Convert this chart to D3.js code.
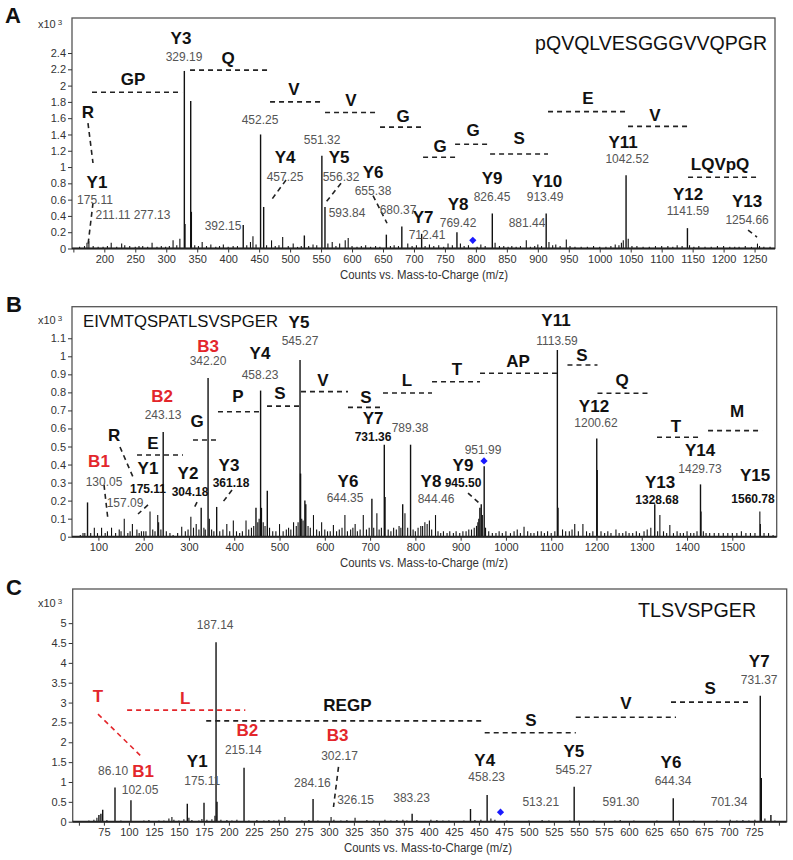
<!DOCTYPE html>
<html><head><meta charset="utf-8">
<script src="https://cdn.jsdelivr.net/npm/d3@7"></script>
<style>
body{margin:0;background:#fff}
svg{display:block;font-family:"Liberation Sans",Arial,sans-serif}
.ion,.res{font-weight:bold;font-size:17px;fill:#111}
.red{font-weight:bold;font-size:17px;fill:#e3262b}
.num{font-size:12px;fill:#555}
.numb{font-size:12px;fill:#111;font-weight:bold}
.tick text{font-size:11px;fill:#333;font-family:"Liberation Sans",Arial,sans-serif}
.tick line{stroke:#333}
</style></head><body>
<svg id="chart" width="793" height="860"></svg>
<script>
// ---------------- DATA (m/z, counts x10^3) ----------------
const peaksA = [
[175.1,0.09],[211.1,0.07],[277.1,0.07],[329.2,2.18],[330.2,0.3],[339.5,1.81],[340.5,0.45],[392.2,0.05],[424.3,0.29],
[452.3,1.40],[457.3,0.51],[551.3,1.14],[556.3,0.51],[593.8,0.13],[655.4,0.17],[680.4,0.27],[712.4,0.18],[769.4,0.20],
[826.5,0.43],[881.4,0.10],[913.5,0.43],[946,0.11],[1042.5,0.90],[1141.6,0.25],[1254.7,0.06],
[160,0.02],[168,0.03],[172,0.07],[182,0.03],[190,0.02],[198,0.02],[205,0.03],[220,0.02],[228,0.06],[233,0.04],[241,0.03],
[250,0.02],[256,0.03],[262,0.03],[270,0.02],[285,0.02],[292,0.03],[299,0.02],[305,0.03],[311,0.1],[317,0.04],[322,0.12],
[346,0.04],[352,0.03],[358,0.08],[365,0.03],[372,0.05],[380,0.02],[386,0.03],[400,0.02],[408,0.03],[415,0.03],[430,0.04],
[436,0.08],[440,0.15],[445,0.05],[462,0.04],[470,0.1],[476,0.03],[482,0.04],[488,0.14],[497,0.03],[505,0.06],[512,0.02],
[518,0.03],[523,0.16],[530,0.03],[537,0.05],[543,0.04],[561,0.06],[568,0.08],[574,0.03],[580,0.06],[589,0.1],[600,0.03],
[608,0.02],[615,0.03],[622,0.04],[630,0.02],[638,0.03],[645,0.02],[662,0.03],[668,0.04],[675,0.03],[690,0.06],[697,0.03],
[704,0.04],[718,0.03],[725,0.05],[732,0.03],[740,0.04],[748,0.02],[755,0.06],[762,0.04],[775,0.06],[781,0.03],[788,0.04],
[802,0.02],[808,0.05],[815,0.03],[831,0.07],[838,0.03],[845,0.03],[852,0.02],[858,0.03],[865,0.02],[872,0.03],[888,0.02],
[895,0.03],[900,0.05],[906,0.03],[918,0.08],[924,0.04],[929,0.05],[936,0.03],[952,0.03],[960,0.02],[970,0.02],[980,0.02],
[990,0.03],[1000,0.02],[1010,0.02],[1018,0.03],[1025,0.05],[1031,0.04],[1035,0.07],[1038,0.1],[1046,0.12],[1052,0.03],
[1060,0.03],[1070,0.02],[1080,0.02],[1090,0.03],[1100,0.03],[1110,0.03],[1118,0.02],[1125,0.04],[1133,0.03],[1145,0.04],
[1152,0.02],[1160,0.03],[1170,0.02],[1180,0.02],[1190,0.03],[1200,0.03],[1210,0.02],[1218,0.02],[1225,0.02],[1235,0.03],
[1245,0.02],[1258,0.03],[1265,0.02],[1275,0.02]
];
const peaksB = [
[76,0.19],[91,0.05],[107,0.05],[129,0.05],[146,0.04],[157.1,0.1],[175.1,0.07],[200,0.03],[214,0.14],[231,0.12],[233,0.08],
[243.1,0.58],[284,0.055],[304.2,0.11],[316,0.07],[327,0.16],[342.2,0.88],[345,0.1],[361.2,0.165],[383.6,0.07],[398,0.09],
[426,0.09],[448,0.16],[458.2,0.81],[460,0.16],[473,0.255],[500,0.07],[531,0.08],[545.3,0.98],[546.5,0.35],[556,0.2],
[558,0.18],[575,0.12],[593,0.08],[619,0.065],[644.4,0.12],[667,0.07],[685,0.12],[704,0.21],[715,0.13],[731.4,0.51],
[733,0.22],[772,0.18],[777,0.13],[789.4,0.51],[821,0.08],[831,0.09],[844.5,0.12],[945.5,0.18],[952,0.39],[1040,0.055],
[1113.6,1.035],[1115,0.16],[1152,0.07],[1170,0.07],[1200.6,0.545],[1201.5,0.37],[1243,0.04],[1328.7,0.18],[1340,0.12],
[1362,0.065],[1429.7,0.29],[1431,0.14],[1560.8,0.14],[1562,0.07],
[930,0.05],[935,0.06],[938,0.08],[940,0.1],[942.5,0.16],[948,0.12],[955,0.05],
[60,0.01],[66,0.02],[70,0.02],[83,0.02],[98,0.02],[115,0.02],[120,0.03],[138,0.02],[150,0.03],[165,0.02],[170,0.03],
[185,0.04],[190,0.02],[195,0.03],[205,0.03],[220,0.04],[225,0.03],[238,0.04],[250,0.03],[258,0.02],[265,0.01],[275,0.02],
[292,0.03],[298,0.04],[310,0.05],[322,0.04],[333,0.05],[336,0.04],[350,0.04],[355,0.03],[368,0.03],[375,0.04],[390,0.03],
[405,0.03],[412,0.02],[418,0.03],[432,0.04],[438,0.05],[443,0.06],[452,0.08],[455,0.1],[464,0.08],[468,0.06],[478,0.05],
[485,0.03],[492,0.03],[508,0.03],[515,0.04],[520,0.05],[525,0.04],[537,0.06],[541,0.08],[549,0.1],[552,0.09],[563,0.06],
[568,0.05],[582,0.04],[588,0.03],[600,0.04],[606,0.03],[612,0.03],[626,0.03],[632,0.04],[638,0.05],[650,0.03],[657,0.04],
[662,0.05],[672,0.03],[678,0.04],[692,0.04],[698,0.05],[708,0.05],[720,0.04],[725,0.05],[740,0.04],[746,0.03],[752,0.05],
[758,0.04],[764,0.06],[768,0.05],[783,0.05],[795,0.04],[800,0.03],[806,0.05],[812,0.06],[816,0.06],[826,0.07],[836,0.04],
[850,0.03],[856,0.02],[862,0.03],[870,0.02],[876,0.03],[884,0.02],[890,0.03],[898,0.02],[905,0.03],[912,0.03],[918,0.04],
[924,0.04],[962,0.03],[970,0.02],[978,0.02],[985,0.03],[992,0.02],[1000,0.03],[1010,0.02],[1018,0.03],[1025,0.04],
[1032,0.02],[1048,0.03],[1055,0.02],[1062,0.02],[1070,0.03],[1078,0.03],[1085,0.02],[1092,0.03],[1100,0.02],[1108,0.03],
[1125,0.04],[1132,0.03],[1140,0.03],[1146,0.04],[1160,0.03],[1178,0.03],[1185,0.02],[1192,0.03],[1210,0.03],[1218,0.02],
[1225,0.03],[1232,0.02],[1250,0.02],[1258,0.02],[1265,0.03],[1272,0.02],[1280,0.02],[1288,0.03],[1295,0.02],[1305,0.03],
[1312,0.04],[1320,0.05],[1335,0.03],[1348,0.03],[1355,0.02],[1370,0.02],[1378,0.03],[1385,0.02],[1392,0.02],[1400,0.03],
[1408,0.02],[1415,0.02],[1422,0.03],[1436,0.03],[1442,0.02],[1450,0.02],[1460,0.02],[1470,0.02],[1480,0.02],[1490,0.02],
[1500,0.02],[1510,0.02],[1520,0.03],[1530,0.02],[1540,0.02],[1550,0.02],[1570,0.02],[1580,0.02],[1590,0.01]
];
const peaksC = [
[70,0.17],[72,0.2],[73.8,0.3],[86.1,0.86],[102.05,0.54],[143,0.12],[158.4,0.45],[175.11,0.48],[187.14,4.52],[188.1,0.5],
[215.14,1.36],[256,0.12],[284.16,0.57],[302.17,0.12],[326.15,0.1],[383.23,0.2],[441.6,0.32],[458.23,0.67],[513.2,0.04],
[545.27,0.88],[591.3,0.04],[644.34,0.59],[701.3,0.05],[731.37,3.17],[732.4,1.1],[742,0.17],
[55,0.02],[60,0.03],[65,0.05],[68,0.1],[78,0.04],[92,0.03],[97,0.02],[110,0.02],[115,0.03],[120,0.04],[125,0.02],[130,0.03],
[135,0.03],[140,0.08],[145,0.05],[150,0.03],[155,0.06],[160,0.1],[163,0.04],[170,0.03],[173,0.07],[178,0.05],[183,0.06],
[186,0.15],[192,0.05],[198,0.04],[203,0.03],[208,0.05],[220,0.03],[228,0.04],[235,0.03],[240,0.04],[245,0.03],[250,0.05],
[260,0.03],[268,0.02],[273,0.03],[280,0.04],[289,0.03],[295,0.02],[305,0.05],[312,0.03],[318,0.04],[322,0.02],[332,0.02],
[338,0.04],[345,0.03],[350,0.02],[356,0.05],[362,0.03],[368,0.04],[374,0.05],[378,0.03],[388,0.04],[395,0.02],[402,0.05],
[408,0.04],[414,0.03],[420,0.03],[428,0.02],[435,0.03],[446,0.04],[452,0.05],[462,0.08],[466,0.05],[478,0.03],[485,0.02],
[492,0.02],[500,0.03],[507,0.02],[520,0.03],[528,0.02],[535,0.02],[541,0.03],[550,0.03],[558,0.02],[565,0.03],[572,0.02],
[580,0.02],[586,0.03],[598,0.02],[605,0.03],[612,0.02],[620,0.02],[628,0.03],[636,0.02],[650,0.03],[658,0.02],[665,0.03],
[672,0.02],[680,0.02],[688,0.03],[695,0.02],[708,0.03],[714,0.04],[720,0.03],[726,0.05],[736,0.08],[746,0.03],[752,0.02]
];
// precursor markers [m/z, counts]
const precursorA = [[795,0.10]];
const precursorB = [[951.6,0.42]];
const precursorC = [[471.6,0.24]];
// sequences
const sequences = ['pQVQLVESGGGVVQPGR','EIVMTQSPATLSVSPGER','TLSVSPGER'];
const panelLetters = ['A','B','C'];
const axisTitle = 'Counts vs. Mass-to-Charge (m/z)';
const yUnit = ['x10','3'];
// annotation text: [text, kind, m/z, counts]
const labelsA = [
['Y3','ion',323.8,2.56],['329.19','num',328.7,2.385],['GP','res',246.3,2.06],['Q','res',399.7,2.32],['V','res',506.3,1.94],
['V','res',598.4,1.80],['G','res',682.4,1.60],['G','res',742.1,1.24],['G','res',795.4,1.43],['S','res',869.7,1.33],
['E','res',981.1,1.83],['V','res',1089.3,1.62],['LQVpQ','res',1194.3,1.02],['R','res',173.6,1.66],['Y1','ion',188.2,0.80],
['175.11','num',184.9,0.63],['211.11','num',214.0,0.445],['277.13','num',277.0,0.445],['392.15','num',391.7,0.31],
['452.25','num',451.4,1.61],['Y4','ion',491.8,1.10],['457.25','num',491.8,0.91],['551.32','num',551.6,1.37],
['Y5','ion',579.0,1.10],['556.32','num',582.2,0.91],['Y6','ion',633.9,0.92],['655.38','num',633.9,0.74],
['593.84','num',591.9,0.47],['680.37','num',674.3,0.51],['Y7','ion',714.7,0.37],['712.41','num',721.1,0.20],
['Y8','ion',771.2,0.53],['769.42','num',771.2,0.35],['Y9','ion',826.1,0.84],['826.45','num',826.1,0.67],
['Y10','ion',914.9,0.81],['913.49','num',911.7,0.67],['881.44','num',882.6,0.35],['Y11','ion',1037.7,1.29],
['1042.52','num',1044.2,1.13],['Y12','ion',1142.6,0.65],['1141.59','num',1142.6,0.495],['Y13','ion',1237.9,0.56],
['1254.66','num',1237.9,0.385]
];
const labelsB = [
['Y5','ion',543.0,1.183],['545.27','num',545.2,1.10],['B3','red',342.1,1.05],['342.20','num',342.1,0.99],
['Y4','ion',456.9,1.007],['458.23','num',456.9,0.913],['B2','red',240.5,0.769],['243.13','num',242.7,0.691],
['V','res',596.0,0.857],['P','res',408.3,0.769],['S','res',501.1,0.785],['S','res',691.0,0.763],['L','res',781.5,0.857],
['T','res',892.0,0.918],['AP','res',1026.7,0.963],['S','res',1168.0,0.996],['Q','res',1256.4,0.857],['T','res',1375.6,0.603],
['M','res',1510.4,0.686],['Y11','ion',1110.6,1.19],['1113.59','num',1112.8,1.10],['Y12','ion',1194.5,0.713],
['1200.62','num',1198.9,0.647],['Y14','ion',1428.7,0.469],['1429.73','num',1428.7,0.392],['Y15','ion',1550.1,0.33],
['1560.78','numb',1545.7,0.226],['Y13','ion',1340.3,0.292],['1328.68','numb',1333.7,0.22],['951.99','num',949.4,0.497],
['Y9','ion',905.2,0.386],['945.50','numb',905.2,0.314],['Y8','ion',834.5,0.298],['844.46','num',845.6,0.226],
['789.38','num',788.2,0.619],['Y7','ion',706.5,0.647],['731.36','numb',706.5,0.569],['Y6','ion',651.2,0.298],
['644.35','num',644.6,0.231],['G','res',317.8,0.63],['E','res',220.6,0.508],['R','res',134.5,0.553],['B1','red',101.3,0.408],
['130.05','num',112.4,0.32],['Y1','ion',209.5,0.37],['175.11','numb',209.5,0.281],['157.09','num',158.8,0.203],
['Y2','ion',297.9,0.342],['304.18','numb',302.3,0.264],['Y3','ion',388.4,0.386],['361.18','numb',392.8,0.314]
];
const labelsC = [
['187.14','num',186.3,5.01],['T','red',69.1,3.13],['L','red',156.3,3.08],['REGP','res',318.5,2.89],['B2','red',218.4,2.26],
['215.14','num',214.4,1.86],['B3','red',308.6,2.13],['302.17','num',310.6,1.73],['86.10','num',84.2,1.33],
['B1','red',114.2,1.23],['102.05','num',111.2,0.87],['Y1','ion',168.3,1.48],['175.11','num',173.3,1.10],
['284.16','num',283.5,1.05],['326.15','num',326.6,0.60],['383.23','num',382.7,0.67],['Y4','ion',455.8,1.50],
['458.23','num',457.8,1.20],['S','res',501.9,2.51],['V','res',597.0,2.94],['S','res',681.2,3.32],['Y5','ion',544.9,1.73],
['545.27','num',544.9,1.38],['513.21','num',511.9,0.55],['591.30','num',592.0,0.55],['Y6','ion',642.1,1.45],
['644.34','num',644.1,1.10],['701.34','num',700.2,0.55],['Y7','ion',730.3,4.00],['731.37','num',730.3,3.64]
];
// dashed connectors: [mz1, counts1, mz2, counts2, kind]
const dashesA = [
[180.1,1.918,325.5,1.918,'k'],[338.4,2.19,467.6,2.19,'k'],[467.6,1.80,553.2,1.80,'k'],[556.4,1.67,642.0,1.67,'k'],
[645.2,1.49,714.7,1.49,'k'],[714.7,1.12,766.4,1.12,'k'],[766.4,1.28,822.9,1.28,'k'],[822.9,1.16,916.5,1.16,'k'],
[916.5,1.68,1045.7,1.68,'k'],[1045.7,1.50,1142.6,1.50,'k'],[1142.6,0.875,1254.0,0.875,'k'],[173.6,1.54,181.7,1.05,'k'],
[181.7,0.56,173.6,0.04,'k'],[493.4,0.84,469.2,0.59,'k'],[582.2,0.80,558.0,0.57,'k'],[633.9,0.65,656.5,0.31,'k'],
[1239.5,0.225,1254.0,0.14,'k']
];
const dashesB = [
[547.4,0.804,651.2,0.804,'k'],[364.1,0.693,459.1,0.693,'k'],[472.4,0.724,545.2,0.724,'k'],[651.2,0.717,728.5,0.717,'k'],
[728.5,0.797,836.8,0.797,'k'],[836.8,0.859,942.8,0.859,'k'],[942.8,0.906,1112.8,0.906,'k'],[1135.9,0.952,1202.2,0.952,'k'],
[1202.2,0.795,1314.8,0.795,'k'],[1333.7,0.551,1428.7,0.551,'k'],[1446.4,0.588,1565.7,0.588,'k'],[308.9,0.536,364.1,0.536,'k'],
[185.3,0.453,286.8,0.453,'k'],[147.7,0.497,176.4,0.331,'k'],[112.4,0.287,121.2,0.093,'k'],[209.5,0.176,187.5,0.126,'k'],
[317.8,0.192,309.0,0.148,'k'],[395.1,0.259,373.0,0.186,'k'],[916.3,0.242,940.6,0.187,'k']
];
const dashesC = [
[69.1,2.71,114.2,1.60,'r'],[98.2,2.81,216.4,2.81,'r'],[177.3,2.54,453.8,2.54,'k'],[309.6,1.38,304.6,0.37,'k'],
[455.8,2.24,546.9,2.24,'k'],[546.9,2.63,647.1,2.63,'k'],[642.1,3.01,720.2,3.01,'k']
];
// axis ticks and labels
const xTicksA = [150,200,250,300,350,400,450,500,550,600,650,700,750,800,850,900,950,1000,1050,1100,1150,1200,1250];
const xTickLabelsA = ['','200','250','300','350','400','450','500','550','600','650','700','750','800','850','900','950','1000','1050','1100','1150','1200','1250'];
const yTicksA = [0,0.2,0.4,0.6,0.8,1,1.2,1.4,1.6,1.8,2,2.2,2.4];
const xTicksB = [100,200,300,400,500,600,700,800,900,1000,1100,1200,1300,1400,1500];
const xTickLabelsB = ['100','200','300','400','500','600','700','800','900','1000','1100','1200','1300','1400','1500'];
const yTicksB = [0,0.1,0.2,0.3,0.4,0.5,0.6,0.7,0.8,0.9,1,1.1];
const xTicksC = [50,75,100,125,150,175,200,225,250,275,300,325,350,375,400,425,450,475,500,525,550,575,600,625,650,675,700,725,750];
const xTickLabelsC = ['','75','100','125','150','175','200','225','250','275','300','325','350','375','400','425','450','475','500','525','550','575','600','625','650','675','700','725',''];
const yTicksC = [0,0.5,1,1.5,2,2.5,3,3.5,4,4.5,5];

// ---------------- LAYOUT ----------------
const layouts = [
 {left:72,right:775,top:18,bottom:248.5,xDom:[147.8,1283],yDom:[0,2.83],letterY:23,letterX:5,unitY:24,titleY:279,titleX:424,
  seqAnchor:'middle',seqMz:1082.9,seqV:2.52,seqLen:232,seqSize:19.5},
 {left:72,right:776.7,top:306.7,bottom:536.7,xDom:[41.7,1598],yDom:[0,1.275],letterY:312,letterX:6,unitY:320,titleY:567,titleX:424,
  seqAnchor:'start',seqMz:66.0,seqV:1.193,seqLen:195,seqSize:16.4},
 {left:72.7,right:786.7,top:589,bottom:821.7,xDom:[43.8,757.8],yDom:[0,5.86],letterY:595,letterX:6,unitY:603,titleY:852,titleX:428,
  seqAnchor:'middle',seqMz:668.2,seqV:5.33,seqLen:118,seqSize:19.5}
];
const RED = '#e3262b';
const svg = d3.select('#chart');

function drawPanel(i, cfg, peaks, labels, dashes, prec, xTicks, xTickLabels, yTicks) {
  const g = svg.append('g');
  const x = d3.scaleLinear().domain(cfg.xDom).range([cfg.left, cfg.right]);
  const y = d3.scaleLinear().domain(cfg.yDom).range([cfg.bottom, cfg.top]);

  g.append('rect').attr('x', cfg.left).attr('y', cfg.top)
    .attr('width', cfg.right - cfg.left).attr('height', cfg.bottom - cfg.top)
    .attr('fill', 'none').attr('stroke', '#555').attr('stroke-width', 1.3);

  g.append('g').selectAll('line').data(peaks).join('line')
    .attr('x1', d => x(d[0])).attr('x2', d => x(d[0]))
    .attr('y1', y(0)).attr('y2', d => y(d[1]))
    .attr('stroke', '#111').attr('stroke-width', d => d[1] > 0.15 ? 1.4 : 1.1);

  g.append('line').attr('x1', cfg.left).attr('x2', cfg.right).attr('y1', cfg.bottom).attr('y2', cfg.bottom)
    .attr('stroke', '#222').attr('stroke-width', 2);

  const xa = d3.axisBottom(x).tickValues(xTicks).tickSize(4).tickPadding(3)
    .tickFormat((d, k) => xTickLabels[k]);
  g.append('g').attr('transform', `translate(0,${cfg.bottom})`).call(xa)
    .call(a => a.select('.domain').remove());
  const ya = d3.axisLeft(y).tickValues(yTicks).tickSize(4).tickPadding(2)
    .tickFormat(d => String(+d.toFixed(1)));
  g.append('g').attr('transform', `translate(${cfg.left},0)`).call(ya)
    .call(a => a.select('.domain').remove());

  const u = g.append('text').attr('x', 38).attr('y', cfg.unitY).attr('dy', '0.35em')
    .style('font-size', '11px').style('fill', '#333');
  u.append('tspan').text(yUnit[0]);
  u.append('tspan').attr('dx', 2).attr('dy', '-0.3em').style('font-size', '8px').text(yUnit[1]);

  g.append('text').attr('x', cfg.letterX).attr('y', cfg.letterY)
    .style('font-size', '22px').style('font-weight', 'bold').style('fill', '#111').text(panelLetters[i]);

  g.append('text').attr('x', cfg.titleX).attr('y', cfg.titleY).attr('text-anchor', 'middle')
    .style('font-size', '12px').style('fill', '#333')
    .attr('textLength', 168).attr('lengthAdjust', 'spacingAndGlyphs').text(axisTitle);

  g.append('text').attr('x', x(cfg.seqMz)).attr('y', y(cfg.seqV)).attr('dy', '0.35em')
    .attr('text-anchor', cfg.seqAnchor)
    .style('font-size', cfg.seqSize + 'px').style('fill', '#111')
    .attr('textLength', cfg.seqLen).attr('lengthAdjust', 'spacingAndGlyphs').text(sequences[i]);

  g.append('g').selectAll('line').data(dashes).join('line')
    .attr('x1', d => x(d[0])).attr('y1', d => y(d[1]))
    .attr('x2', d => x(d[2])).attr('y2', d => y(d[3]))
    .attr('stroke', d => d[4] === 'r' ? RED : '#222')
    .attr('stroke-width', 1.6).attr('stroke-dasharray', '5,4');

  g.append('g').selectAll('text').data(labels).join('text')
    .attr('class', d => d[1])
    .attr('x', d => x(d[2])).attr('y', d => y(d[3]))
    .attr('dy', d => (d[1] === 'num' || d[1] === 'numb') ? '0.55em' : '0.25em')
    .attr('text-anchor', 'middle').text(d => d[0]);

  g.append('g').selectAll('path').data(prec).join('path')
    .attr('d', d3.symbol(d3.symbolSquare, 26))
    .attr('transform', d => `translate(${x(d[0])},${y(d[1])}) rotate(45)`)
    .attr('fill', '#1a1aff');
}

drawPanel(0, layouts[0], peaksA, labelsA, dashesA, precursorA, xTicksA, xTickLabelsA, yTicksA);
drawPanel(1, layouts[1], peaksB, labelsB, dashesB, precursorB, xTicksB, xTickLabelsB, yTicksB);
drawPanel(2, layouts[2], peaksC, labelsC, dashesC, precursorC, xTicksC, xTickLabelsC, yTicksC);
</script></body></html>
